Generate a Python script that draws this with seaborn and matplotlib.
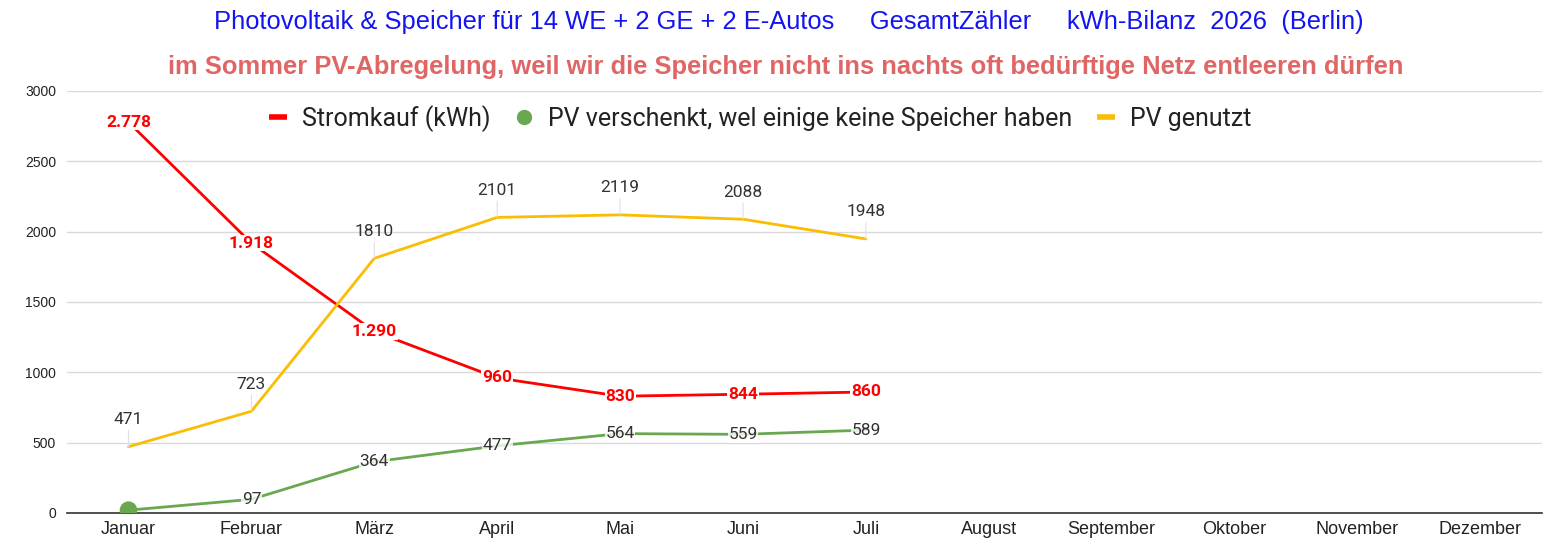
import numpy as np
import pandas as pd
import matplotlib
matplotlib.use('Agg')
import matplotlib.pyplot as plt
import seaborn as sns
from matplotlib.lines import Line2D

# Daten
monate = ['Januar', 'Februar', 'März', 'April', 'Mai', 'Juni', 'Juli',
          'August', 'September', 'Oktober', 'November', 'Dezember']
stromkauf = [2778, 1918, 1290, 960, 830, 844, 860]
stromkauf_txt = ['2.778', '1.918', '1.290', '960', '830', '844', '860']
pv_verschenkt = [20, 97, 364, 477, 564, 559, 589]
pv_verschenkt_txt = ['', '97', '364', '477', '564', '559', '589']
pv_genutzt = [471, 723, 1810, 2101, 2119, 2088, 1948]

titel1 = 'Photovoltaik & Speicher für 14 WE + 2 GE + 2 E-Autos     GesamtZähler     kWh-Bilanz  2026  (Berlin)'
titel2 = 'im Sommer PV-Abregelung, weil wir die Speicher nicht ins nachts oft bedürftige Netz entleeren dürfen'

rot = '#ff0000'
gruen = '#6aa84f'
gelb = '#fbbc04'

n = len(stromkauf)
df = pd.DataFrame({
    'monat': monate[:n] * 3,
    'wert': stromkauf + pv_verschenkt + pv_genutzt,
    'reihe': ['Stromkauf (kWh)'] * n
             + ['PV verschenkt, wel einige keine Speicher haben'] * n
             + ['PV genutzt'] * n,
})

sns.set_style('white')
plt.rcParams['font.family'] = ['Liberation Sans', 'DejaVu Sans']
roboto = ['Roboto', 'DejaVu Sans']

fig = plt.figure(figsize=(15.59, 5.51), dpi=100)
ax = fig.add_axes([0.043, 0.069, 0.946, 0.766])

farben = {'Stromkauf (kWh)': rot,
          'PV verschenkt, wel einige keine Speicher haben': gruen,
          'PV genutzt': gelb}
sns.lineplot(data=df, x='monat', y='wert', hue='reihe', palette=farben,
             linewidth=2, ax=ax, legend=False, sort=False)
# Punkt im Januar (gruen)
sns.scatterplot(x=[monate[0]], y=[pv_verschenkt[0]], color=gruen, s=160,
                ax=ax, legend=False, zorder=5, edgecolor='none')

ax.set_xlim(-0.5, 11.5)
ax.set_ylim(0, 3000)
ax.set_xticks(range(12))
ax.set_xticklabels(monate, fontsize=13, color='#222222')
ax.set_yticks([0, 500, 1000, 1500, 2000, 2500, 3000])
ax.tick_params(axis='y', labelsize=10, colors='#222222', length=0, pad=8)
ax.tick_params(axis='x', length=0, pad=6)
ax.set_xlabel('')
ax.set_ylabel('')
ax.grid(axis='y', color='#d9d9d9', linewidth=1)
for s in ['top', 'right', 'left']:
    ax.spines[s].set_visible(False)
ax.spines['bottom'].set_color('#333333')
ax.spines['bottom'].set_linewidth(1.2)

# Beschriftungen PV genutzt (oberhalb mit Fuehrungslinie)
for i, v in enumerate(pv_genutzt):
    ax.annotate(str(v), xy=(i, v), xytext=(0, 14), textcoords='offset points',
                ha='center', va='bottom', fontsize=12.5, color='#333333',
                family=roboto,
                arrowprops=dict(arrowstyle='-', color='#e0e0e0', lw=0.8,
                                shrinkA=0, shrinkB=0))

# Beschriftungen PV verschenkt
for i, t in enumerate(pv_verschenkt_txt):
    if t:
        ax.text(i, pv_verschenkt[i], t, ha='center', va='center', fontsize=12.5,
                color='#333333', family=roboto, zorder=6,
                bbox=dict(facecolor='white', edgecolor='none', pad=0.5, alpha=0.8))

# Beschriftungen Stromkauf
for i, t in enumerate(stromkauf_txt):
    ax.text(i, stromkauf[i], t, ha='center', va='center', fontsize=12.5,
            color=rot, fontweight='bold', family=roboto, zorder=7,
            bbox=dict(facecolor='white', edgecolor='none', pad=0.5))

handles = [Line2D([], [], color=rot, lw=4, solid_capstyle='butt'),
           Line2D([], [], color=gruen, lw=0, marker='o', markersize=10),
           Line2D([], [], color=gelb, lw=4, solid_capstyle='butt')]
labels = ['Stromkauf (kWh)', 'PV verschenkt, wel einige keine Speicher haben', 'PV genutzt']
leg = ax.legend(handles, labels, loc='upper center', bbox_to_anchor=(0.47, 1.02),
                ncol=3, frameon=False, handlelength=0.7,
                handletextpad=0.6, columnspacing=1.0,
                prop={'family': roboto, 'size': 18})
for t in leg.get_texts():
    t.set_color('#222222')

fig.text(0.506, 0.960, titel1, ha='center', va='center', fontsize=18.4, color='#1414f0')
fig.text(0.504, 0.878, titel2, ha='center', va='center', fontsize=18.4,
         color='#e06666', fontweight='bold')

fig.savefig('out.png', dpi=100)
